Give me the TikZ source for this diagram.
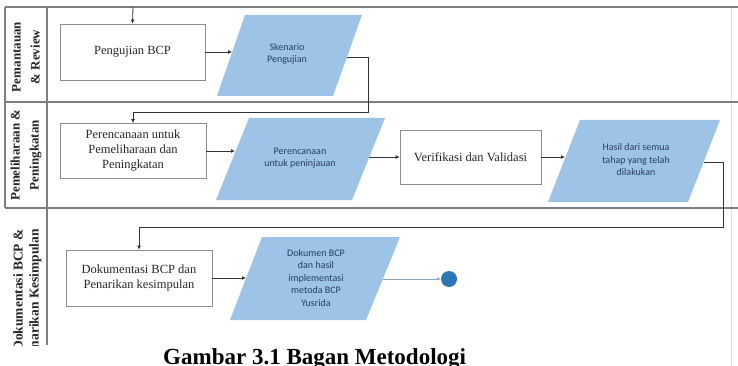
\documentclass[tikz,border=0pt]{standalone}
\usepackage{fontspec}
\setmainfont{Liberation Serif}
\newfontfamily\sansf{Carlito}
\usetikzlibrary{arrows.meta}
\definecolor{pblue}{HTML}{9DC3E6}
\definecolor{lanegray}{HTML}{7F7F7F}
\definecolor{boxgray}{HTML}{8C8C8C}
\definecolor{stext}{HTML}{25405F}
\definecolor{endblue}{HTML}{2E75B6}
\definecolor{endline}{HTML}{8FA3B8}
\begin{document}
\begin{tikzpicture}[x=1pt,y=-1pt,
  lane/.style={draw=lanegray,line width=1.3pt},
  procbox/.style={draw=boxgray,line width=0.8pt,fill=white,inner sep=2pt},
  boxtext/.style={font=\fontsize{12.5}{15}\selectfont,text=black!85,align=center},
  datatext/.style={font=\sansf\fontsize{10}{12.5}\selectfont,text=stext,align=center,inner sep=0pt},
  flow/.style={draw=black!80,line width=0.8pt,-{Latex[length=4pt,width=4pt]}},
  endflow/.style={draw=endline,line width=0.8pt,-{Latex[length=3.5pt,width=3.5pt]}},
  lanelabel/.style={rotate=90,font=\bfseries\fontsize{13}{19}\selectfont,align=center,text=black!85,inner sep=0pt},
]
\useasboundingbox (0,0) rectangle (738,366);
\clip (0,0) rectangle (738,366);
\fill[white] (0,0) rectangle (738,366);

% lanes
\draw[draw=black!12,line width=0.6pt] (731,7) -- (731,366);
\draw[lane] (5,7) -- (738,7);
\draw[lane] (5,102) -- (738,102);
\draw[lane] (5,208) -- (738,208);
\draw[lane] (5,7) -- (5,208);
\draw[lane] (47,7) -- (47,345);

% lane labels
\node[lanelabel] (l1) at (26,57) {Pemantauan\\\& Review};
\node[lanelabel] (l2) at (26,155) {Pemeliharaan \&\\Peningkatan};
\begin{scope}
\clip (5,209) rectangle (46,345);
\node[lanelabel,align=right,anchor=east,font=\bfseries\fontsize{13.5}{16}\selectfont] (l3) at (27.5,229) {Dokumentasi BCP \&\\Penarikan Kesimpulan};
\end{scope}

% lane 1
\node[procbox,boxtext,minimum width=145pt,minimum height=56pt] (b1) at (132.5,52) {Pengujian BCP};
\fill[pblue] (245,15) -- (362,15) -- (333,96) -- (217,96) -- cycle;
\node[datatext] (p1) at (287,54) {Skenario\\Pengujian};
\coordinate (p1w) at (232.2,52);
\coordinate (p1e) at (347,57);
\coordinate (start) at (133,7);
\coordinate (c1) at (368,112);

% lane 2
\node[procbox,boxtext,minimum width=146pt,minimum height=55pt] (b2) at (133,151) {Perencanaan untuk\\Pemeliharaan dan\\Peningkatan};
\fill[pblue] (249,118) -- (385,118) -- (352,200) -- (216,200) -- cycle;
\node[datatext] (p2) at (300,158) {Perencanaan\\untuk peninjauan};
\coordinate (p2w) at (235,151);
\coordinate (p2e) at (369,157);
\node[procbox,boxtext,minimum width=141pt,minimum height=54pt] (b3) at (470.5,157) {Verifikasi dan Validasi};
\fill[pblue] (580,120) -- (720,120) -- (688,202) -- (548,202) -- cycle;
\node[datatext] (p3) at (636,160) {Hasil dari semua\\tahap yang telah\\dilakukan};
\coordinate (p3w) at (565,157);
\coordinate (p3e) at (704,162);
\coordinate (c2) at (723,227);

% lane 3
\node[procbox,boxtext,minimum width=146pt,minimum height=56pt] (b4) at (139,278) {Dokumentasi BCP dan\\Penarikan kesimpulan};
\fill[pblue] (262,237) -- (400,237) -- (366,320) -- (230,320) -- cycle;
\node[datatext] (p4) at (316,278) {Dokumen BCP\\dan hasil\\implementasi\\metoda BCP\\Yusrida};
\coordinate (p4w) at (246,278);
\coordinate (p4e) at (383,279);
\node[circle,fill=endblue,minimum size=16pt,inner sep=0pt] (end) at (449,279) {};

% connectors
\draw[flow] (start) -- (b1.north);
\draw[flow] (b1.east) -- (p1w);
\draw[flow] (p1e) -| (c1) -| (b2.north);
\draw[flow] (b2.east) -- (p2w);
\draw[flow] (p2e) -- (b3.west);
\draw[flow] (b3.east) -- (p3w);
\draw[flow] (p3e) -| (c2) -| (b4.north);
\draw[flow] (b4.east) -- (p4w);
\draw[endflow] (p4e) -- (end);

% caption
\node[anchor=base west,font=\bfseries\fontsize{23}{27}\selectfont,inner sep=0pt] (cap) at (163,364) {Gambar 3.1 Bagan Metodologi};
\end{tikzpicture}
\end{document}
